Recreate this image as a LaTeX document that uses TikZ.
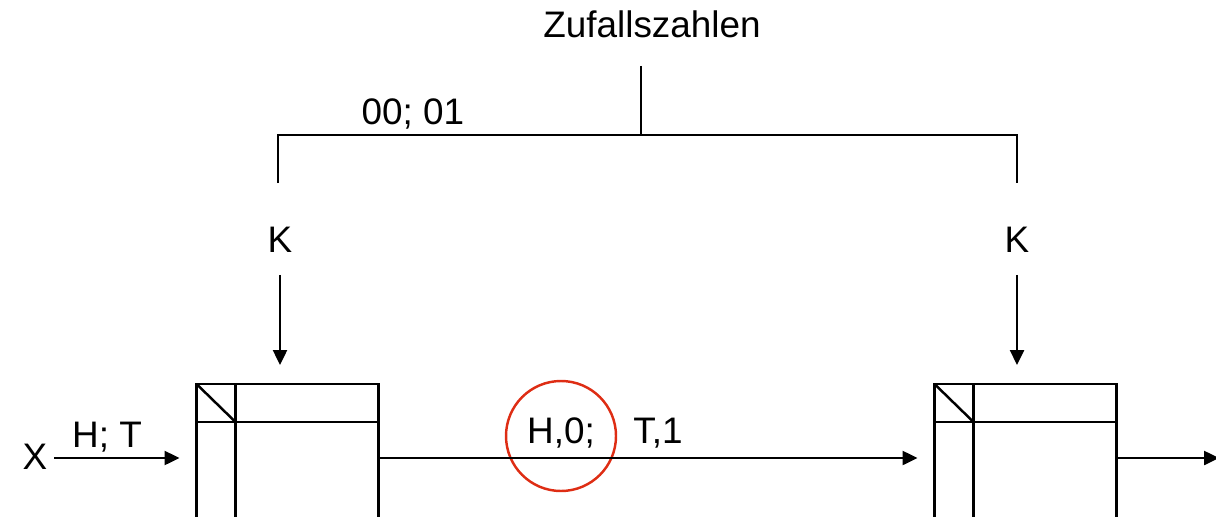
\documentclass[tikz,border=0pt]{standalone}
\usepackage{fontspec}
\setmainfont{Liberation Sans}
\usetikzlibrary{arrows.meta}
\definecolor{mark-red}{RGB}{222,45,20}

\begin{document}
\begin{tikzpicture}[x=0.2mm, y=-0.2mm, line width=1.4pt,
    every node/.style={font=\fontsize{21}{25}\selectfont},
    arr/.style={-{Triangle[length=3mm, width=2.8mm]}},
    cell/.style={draw, rectangle, minimum width=36.4mm, minimum height=34mm, outer sep=0, inner sep=0}]

    \clip (0,0) rectangle (1216,516);

    % Random numbers and the split line
    \node (zz) at (652,24) {Zufallszahlen};
    \coordinate (top) at (641,66);
    \coordinate (split) at (641,135);
    \coordinate (l1) at (278,183);
    \coordinate (r1) at (1017,183);
    \draw (top) -- (split);
    \draw (l1) -- (l1 |- split) -- (r1 |- split) -- (r1);
    \node (zn) at (413,114) {00; 01};

    % Keys
    \node (k1) at (280,240) {K};
    \node (k2) at (1017,240) {K};

    % Boxes
    \node[cell] (b1) at (287.5,469) {};
    \node[cell] (b2) at (1025.5,469) {};
    \foreach \b in {b1, b2} {
        \draw ([xshift=7.8mm]\b.north west) -- ([xshift=7.8mm]\b.south west);
        \draw ([yshift=-7.6mm]\b.north west) -- ([yshift=-7.6mm]\b.north east);
        \draw (\b.north west) -- ([xshift=7.8mm, yshift=-7.6mm]\b.north west);
    }
    \draw[arr, shorten <=3mm, shorten >=3.8mm] (k1) -- (k1 |- b1.north);
    \draw[arr, shorten <=3mm, shorten >=3.8mm] (k2) -- (k2 |- b2.north);

    % Input
    \node (x) at (35,457) {X};
    \node (ht) at (107,437) {H; T};
    \draw[arr, shorten >=3.4mm] (x.east |- 0,458) -- (b1.west |- 0,458);

    % Between the boxes
    \node[draw=mark-red, circle, minimum size=22mm, inner sep=0] (ring) at (561,436) {};
    \node (h0) at (561,433) {H,0;};
    \node (t1) at (658,433) {T,1};
    \draw[arr, shorten >=3.4mm] (b1.east |- 0,458) -- (b2.west |- 0,458);

    % Output
    \coordinate (out) at (1219,458);
    \draw[arr] (b2.east |- out) -- (out);

\end{tikzpicture}
\end{document}
